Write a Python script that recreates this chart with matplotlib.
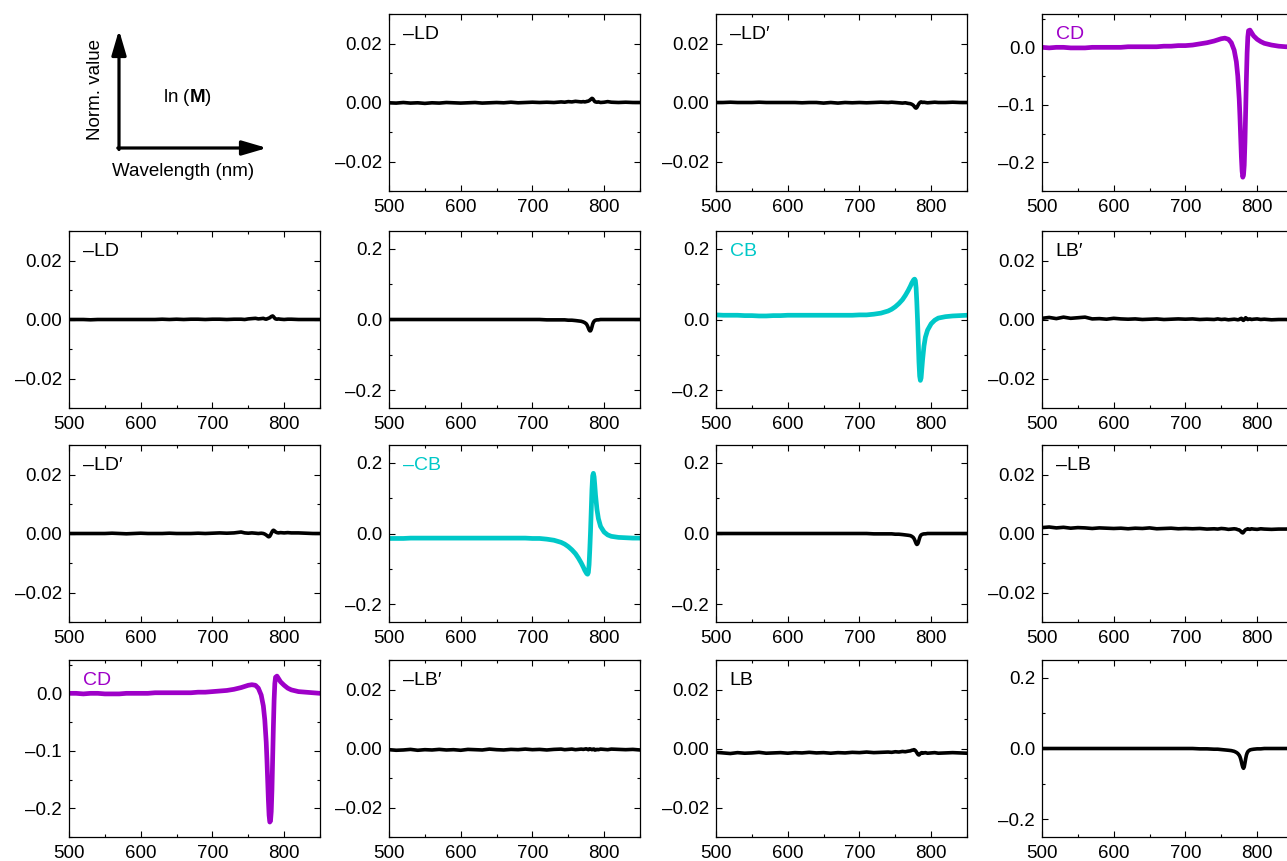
import matplotlib
matplotlib.use("Agg")
import matplotlib.pyplot as plt
from matplotlib.ticker import MultipleLocator, FuncFormatter

plt.rcParams['font.family'] = ['Liberation Sans', 'DejaVu Sans']
plt.rcParams['mathtext.fontset'] = 'custom'
plt.rcParams['mathtext.rm'] = 'Liberation Sans'
plt.rcParams['mathtext.bf'] = 'Liberation Sans:bold'

# ---------------- data ----------------
wl = [500, 510, 520, 530, 540, 550, 560, 570, 580, 590,
      600, 610, 620, 630, 640, 650, 660, 670, 680, 690,
      700, 710, 720, 730, 740, 745, 750, 755, 760, 764,
      768, 771, 773, 775, 776, 777, 778, 779, 780, 781,
      782, 783, 784, 785, 786, 787, 788, 790, 792, 795,
      800, 805, 810, 820, 830, 840, 850]

m01 = [-0.0001, -0.0002, 0.0000, -0.0002, -0.0001, -0.0003, -0.0001, -0.0002, 0.0000, -0.0001,
       -0.0002, -0.0001, 0.0000, -0.0002, -0.0001, 0.0000, -0.0001, 0.0001, -0.0001, 0.0000,
       0.0001, 0.0000, 0.0001, 0.0000, 0.0002, 0.0001, 0.0003, 0.0002, 0.0004, 0.0003,
       0.0002, 0.0003, 0.0002, 0.0003, 0.0004, 0.0004, 0.0005, 0.0006, 0.0008, 0.0010,
       0.0012, 0.0014, 0.0013, 0.0010, 0.0006, 0.0003, 0.0002, 0.0001, 0.0002, 0.0000,
       0.0001, 0.0003, 0.0001, 0.0000, 0.0001, 0.0000, 0.0000]
m02 = [0.0000, 0.0000, 0.0001, 0.0000, 0.0000, 0.0000, 0.0001, 0.0000, 0.0000, 0.0000,
       0.0000, 0.0000, -0.0001, 0.0000, 0.0000, -0.0002, 0.0000, -0.0002, 0.0000, -0.0001,
       0.0000, -0.0001, 0.0000, 0.0001, 0.0000, 0.0001, 0.0000, -0.0001, -0.0002, -0.0001,
       -0.0003, -0.0004, -0.0006, -0.0009, -0.0012, -0.0015, -0.0018, -0.0019, -0.0017, -0.0013,
       -0.0008, -0.0004, -0.0001, 0.0001, 0.0002, 0.0001, 0.0000, 0.0001, 0.0000, -0.0001,
       0.0000, 0.0001, 0.0000, 0.0000, 0.0001, 0.0000, 0.0000]
m03 = [0.000, -0.001, 0.000, 0.000, -0.001, -0.001, -0.001, 0.000, 0.000, 0.000,
       0.000, 0.000, 0.001, 0.001, 0.001, 0.001, 0.001, 0.002, 0.002, 0.003,
       0.003, 0.004, 0.006, 0.008, 0.011, 0.013, 0.015, 0.016, 0.014, 0.008,
       -0.005, -0.025, -0.050, -0.090, -0.120, -0.155, -0.190, -0.215, -0.226, -0.222,
       -0.205, -0.165, -0.110, -0.055, -0.010, 0.018, 0.029, 0.030, 0.026, 0.020,
       0.014, 0.010, 0.007, 0.004, 0.002, 0.001, 0.001]
m10 = [0.0000, 0.0000, 0.0000, -0.0001, 0.0000, 0.0000, 0.0000, 0.0000, 0.0000, 0.0000,
       0.0000, 0.0000, 0.0000, 0.0001, 0.0000, 0.0001, 0.0000, 0.0001, 0.0001, 0.0000,
       0.0001, 0.0001, 0.0000, 0.0001, 0.0001, 0.0000, 0.0002, 0.0003, 0.0004, 0.0002,
       0.0003, 0.0004, 0.0002, 0.0001, 0.0002, 0.0003, 0.0004, 0.0005, 0.0006, 0.0008,
       0.0010, 0.0011, 0.0012, 0.0010, 0.0007, 0.0004, 0.0002, 0.0001, 0.0002, 0.0001,
       0.0000, 0.0001, 0.0001, 0.0000, 0.0000, 0.0000, 0.0000]
m11 = [0.000, 0.000, 0.000, 0.000, 0.000, 0.000, 0.000, 0.000, 0.000, 0.000,
       0.000, 0.000, 0.000, 0.000, 0.000, 0.000, 0.000, 0.000, 0.000, 0.000,
       0.000, 0.000, -0.001, -0.001, -0.001, -0.001, -0.002, -0.002, -0.003, -0.004,
       -0.005, -0.007, -0.009, -0.012, -0.015, -0.019, -0.024, -0.029, -0.032, -0.032,
       -0.028, -0.021, -0.013, -0.008, -0.005, -0.003, -0.002, -0.001, -0.001, 0.000,
       0.000, 0.000, 0.000, 0.000, 0.000, 0.000, 0.000]
m12 = [0.013, 0.012, 0.012, 0.012, 0.011, 0.011, 0.010, 0.010, 0.011, 0.011,
       0.012, 0.012, 0.012, 0.012, 0.012, 0.012, 0.012, 0.012, 0.012, 0.012,
       0.013, 0.013, 0.015, 0.018, 0.024, 0.029, 0.036, 0.045, 0.056, 0.068,
       0.082, 0.094, 0.103, 0.110, 0.113, 0.114, 0.110, 0.090, 0.050, 0.000,
       -0.060, -0.120, -0.160, -0.172, -0.165, -0.140, -0.115, -0.075, -0.050, -0.030,
       -0.012, -0.002, 0.004, 0.008, 0.010, 0.011, 0.012]
m13 = [0.0004, 0.0007, 0.0003, 0.0008, 0.0004, 0.0006, 0.0008, 0.0002, 0.0003, 0.0001,
       0.0004, 0.0002, 0.0001, 0.0002, 0.0000, 0.0001, 0.0002, 0.0000, 0.0001, 0.0002,
       0.0001, 0.0002, 0.0000, 0.0001, 0.0000, 0.0002, 0.0000, 0.0001, -0.0001, 0.0000,
       0.0001, 0.0000, -0.0001, 0.0000, 0.0002, 0.0003, 0.0004, 0.0002, -0.0002, -0.0003,
       0.0000, 0.0003, 0.0006, 0.0004, 0.0001, 0.0000, 0.0001, 0.0002, 0.0000, 0.0001,
       0.0002, 0.0000, 0.0001, -0.0001, 0.0000, 0.0000, -0.0001]
m20 = [0.0000, 0.0000, 0.0000, 0.0000, 0.0000, 0.0000, 0.0001, 0.0000, -0.0001, 0.0000,
       0.0001, 0.0000, 0.0000, 0.0000, 0.0001, 0.0000, 0.0000, 0.0000, 0.0001, 0.0000,
       0.0001, 0.0002, 0.0001, 0.0002, 0.0005, 0.0002, 0.0001, 0.0002, 0.0001, 0.0000,
       0.0001, 0.0000, -0.0002, -0.0005, -0.0007, -0.0009, -0.0011, -0.0011, -0.0009, -0.0005,
       0.0000, 0.0005, 0.0009, 0.0011, 0.0010, 0.0008, 0.0005, 0.0003, 0.0002, 0.0003,
       0.0002, 0.0003, 0.0002, 0.0002, 0.0001, 0.0000, 0.0000]
m21 = [-0.014, -0.014, -0.014, -0.013, -0.013, -0.013, -0.013, -0.013, -0.013, -0.013,
       -0.013, -0.013, -0.013, -0.013, -0.013, -0.013, -0.013, -0.013, -0.013, -0.013,
       -0.014, -0.014, -0.016, -0.019, -0.025, -0.030, -0.037, -0.046, -0.057, -0.069,
       -0.083, -0.095, -0.104, -0.111, -0.114, -0.115, -0.110, -0.088, -0.045, 0.005,
       0.065, 0.125, 0.163, 0.170, 0.160, 0.135, 0.108, 0.068, 0.042, 0.020,
       0.004, -0.004, -0.008, -0.011, -0.012, -0.013, -0.013]
m22 = [0.000, 0.000, 0.000, 0.000, 0.000, 0.000, 0.000, 0.000, 0.000, 0.000,
       0.000, 0.000, 0.000, 0.000, 0.000, 0.000, 0.000, 0.000, 0.000, 0.000,
       0.000, 0.000, -0.001, -0.001, -0.001, -0.001, -0.002, -0.002, -0.003, -0.004,
       -0.005, -0.006, -0.008, -0.011, -0.014, -0.018, -0.023, -0.028, -0.031, -0.030,
       -0.026, -0.019, -0.012, -0.007, -0.004, -0.003, -0.002, -0.001, -0.001, 0.000,
       0.000, 0.000, 0.000, 0.000, 0.000, 0.000, 0.000]
m23 = [0.0020, 0.0022, 0.0019, 0.0021, 0.0018, 0.0020, 0.0019, 0.0017, 0.0019, 0.0018,
       0.0017, 0.0018, 0.0016, 0.0018, 0.0017, 0.0019, 0.0016, 0.0017, 0.0018, 0.0016,
       0.0017, 0.0016, 0.0017, 0.0015, 0.0016, 0.0015, 0.0017, 0.0016, 0.0014, 0.0015,
       0.0016, 0.0015, 0.0013, 0.0012, 0.0010, 0.0008, 0.0005, 0.0003, 0.0002, 0.0004,
       0.0008, 0.0011, 0.0013, 0.0014, 0.0015, 0.0016, 0.0015, 0.0014, 0.0016, 0.0015,
       0.0014, 0.0016, 0.0015, 0.0014, 0.0015, 0.0015, 0.0016]
m30 = [0.000, 0.000, -0.001, 0.000, 0.000, -0.001, -0.001, -0.001, 0.000, 0.000,
       0.000, 0.000, 0.001, 0.001, 0.001, 0.001, 0.001, 0.001, 0.002, 0.002,
       0.003, 0.004, 0.005, 0.007, 0.010, 0.012, 0.014, 0.015, 0.014, 0.009,
       -0.003, -0.022, -0.046, -0.085, -0.115, -0.150, -0.185, -0.212, -0.224, -0.222,
       -0.206, -0.168, -0.112, -0.058, -0.012, 0.017, 0.028, 0.030, 0.026, 0.020,
       0.014, 0.009, 0.006, 0.003, 0.002, 0.001, 0.000]
m31 = [-0.0004, -0.0006, -0.0005, -0.0003, -0.0006, -0.0004, -0.0005, -0.0003, -0.0005, -0.0004,
       -0.0006, -0.0003, -0.0004, -0.0005, -0.0002, -0.0004, -0.0005, -0.0003, -0.0004, -0.0002,
       -0.0004, -0.0003, -0.0005, -0.0003, -0.0002, -0.0004, -0.0003, -0.0002, -0.0004, -0.0003,
       -0.0002, -0.0003, -0.0002, -0.0001, -0.0002, -0.0003, -0.0004, -0.0003, -0.0001, -0.0002,
       -0.0003, -0.0004, -0.0003, -0.0002, -0.0004, -0.0003, -0.0005, -0.0003, -0.0004, -0.0002,
       -0.0003, -0.0004, -0.0002, -0.0003, -0.0004, -0.0003, -0.0005]
m32 = [-0.0013, -0.0015, -0.0017, -0.0014, -0.0016, -0.0015, -0.0013, -0.0016, -0.0015, -0.0014,
       -0.0016, -0.0014, -0.0015, -0.0013, -0.0015, -0.0014, -0.0016, -0.0014, -0.0015, -0.0013,
       -0.0014, -0.0012, -0.0014, -0.0013, -0.0012, -0.0013, -0.0011, -0.0012, -0.0010, -0.0011,
       -0.0009, -0.0008, -0.0006, -0.0005, -0.0004, -0.0005, -0.0007, -0.0010, -0.0014, -0.0018,
       -0.0021, -0.0022, -0.0020, -0.0017, -0.0015, -0.0014, -0.0016, -0.0015, -0.0014, -0.0016,
       -0.0015, -0.0014, -0.0016, -0.0015, -0.0014, -0.0015, -0.0016]
m33 = [0.000, 0.000, 0.000, 0.000, 0.000, 0.000, 0.000, 0.000, 0.000, 0.000,
       0.000, 0.000, 0.000, 0.000, 0.000, 0.000, 0.000, 0.000, 0.000, 0.000,
       0.000, 0.000, -0.001, -0.001, -0.002, -0.002, -0.003, -0.004, -0.005, -0.006,
       -0.008, -0.011, -0.014, -0.019, -0.023, -0.029, -0.037, -0.046, -0.053, -0.056,
       -0.052, -0.041, -0.029, -0.019, -0.013, -0.009, -0.007, -0.004, -0.003, -0.002,
       -0.001, -0.001, 0.000, 0.000, 0.000, 0.000, 0.000]

labels = {(0, 1): '\u2013LD', (0, 2): '\u2013LD\u2032', (0, 3): 'CD',
          (1, 0): '\u2013LD', (1, 2): 'CB', (1, 3): 'LB\u2032',
          (2, 0): '\u2013LD\u2032', (2, 1): '\u2013CB', (2, 3): '\u2013LB',
          (3, 0): 'CD', (3, 1): '\u2013LB\u2032', (3, 2): 'LB'}
series = {(0, 1): m01, (0, 2): m02, (0, 3): m03,
          (1, 0): m10, (1, 1): m11, (1, 2): m12, (1, 3): m13,
          (2, 0): m20, (2, 1): m21, (2, 2): m22, (2, 3): m23,
          (3, 0): m30, (3, 1): m31, (3, 2): m32, (3, 3): m33}
kinds = {(0, 1): 'small', (0, 2): 'small', (0, 3): 'cd',
         (1, 0): 'small', (1, 1): 'big', (1, 2): 'big', (1, 3): 'small',
         (2, 0): 'small', (2, 1): 'big', (2, 2): 'big', (2, 3): 'small',
         (3, 0): 'cd', (3, 1): 'small', (3, 2): 'small', (3, 3): 'big'}
purple = '#9E00C8'
cyan = '#00C8C8'
colors = {(0, 3): purple, (3, 0): purple, (1, 2): cyan, (2, 1): cyan}


def dash_fmt(decimals):
    def f(v, pos):
        s = f'{v:.{decimals}f}'
        if s.startswith('-'):
            if float(s) == 0:
                s = s[1:]
            else:
                s = '\u2013' + s[1:]
        return s
    return FuncFormatter(f)


# ---------------- layout ----------------
W, H = 1287, 861
fig = plt.figure(figsize=(W / 100, H / 100), dpi=100)
col_left = [69, 389, 716, 1042]
row_top = [14, 231, 445, 660]
aw, ah = 251, 177

for (r, c), y in series.items():
    ax = fig.add_axes([col_left[c] / W, 1 - (row_top[r] + ah) / H, aw / W, ah / H])
    color = colors.get((r, c), 'black')
    lw = 3.4 if color != 'black' else 2.6
    ax.plot(wl, y, color=color, lw=lw, solid_capstyle='round', solid_joinstyle='round')
    ax.set_xlim(500, 850)
    ax.xaxis.set_major_locator(MultipleLocator(100))
    ax.xaxis.set_minor_locator(MultipleLocator(50))
    k = kinds[(r, c)]
    if k == 'small':
        ax.set_ylim(-0.03, 0.03)
        ax.yaxis.set_major_locator(MultipleLocator(0.02))
        ax.yaxis.set_minor_locator(MultipleLocator(0.01))
        ax.yaxis.set_major_formatter(dash_fmt(2))
    elif k == 'big':
        ax.set_ylim(-0.25, 0.25)
        ax.yaxis.set_major_locator(MultipleLocator(0.2))
        ax.yaxis.set_minor_locator(MultipleLocator(0.1))
        ax.yaxis.set_major_formatter(dash_fmt(1))
    else:
        ax.set_ylim(-0.25, 0.058)
        ax.yaxis.set_major_locator(MultipleLocator(0.1))
        ax.yaxis.set_minor_locator(MultipleLocator(0.05))
        ax.yaxis.set_major_formatter(dash_fmt(1))
    ax.tick_params(which='both', direction='in', top=True, right=True,
                   labelsize=13.5, width=0.8)
    ax.tick_params(axis='y', pad=5)
    ax.tick_params(axis='x', pad=5.5)
    ax.tick_params(which='major', length=4)
    ax.tick_params(which='minor', length=2.5)
    for s in ax.spines.values():
        s.set_linewidth(0.9)
    if (r, c) in labels:
        ax.text(0.055, 0.885, labels[(r, c)], transform=ax.transAxes,
                color=color, fontsize=14, ha='left', va='center')

# ---------------- schematic (top-left) ----------------
ov = fig.add_axes([0, 0, 1, 1])
ov.set_xlim(0, W)
ov.set_ylim(H, 0)
ov.axis('off')
ov.patch.set_alpha(0)
arrow = dict(arrowstyle='-|>,head_length=0.75,head_width=0.22', lw=2.3,
             color='black', mutation_scale=20, shrinkA=0, shrinkB=0)
ov.annotate('', xy=(119, 30), xytext=(119, 149.5), arrowprops=arrow)
ov.annotate('', xy=(267, 148), xytext=(117.8, 148), arrowprops=arrow)
ov.text(96, 90, 'Norm. value', rotation=90, ha='center', va='center', fontsize=13.5)
ov.text(187, 97, r'ln ($\mathbf{M}$)', ha='center', va='center', fontsize=13.5)
ov.text(183, 171, 'Wavelength (nm)', ha='center', va='center', fontsize=13.5)

fig.savefig('out.png', dpi=100)
